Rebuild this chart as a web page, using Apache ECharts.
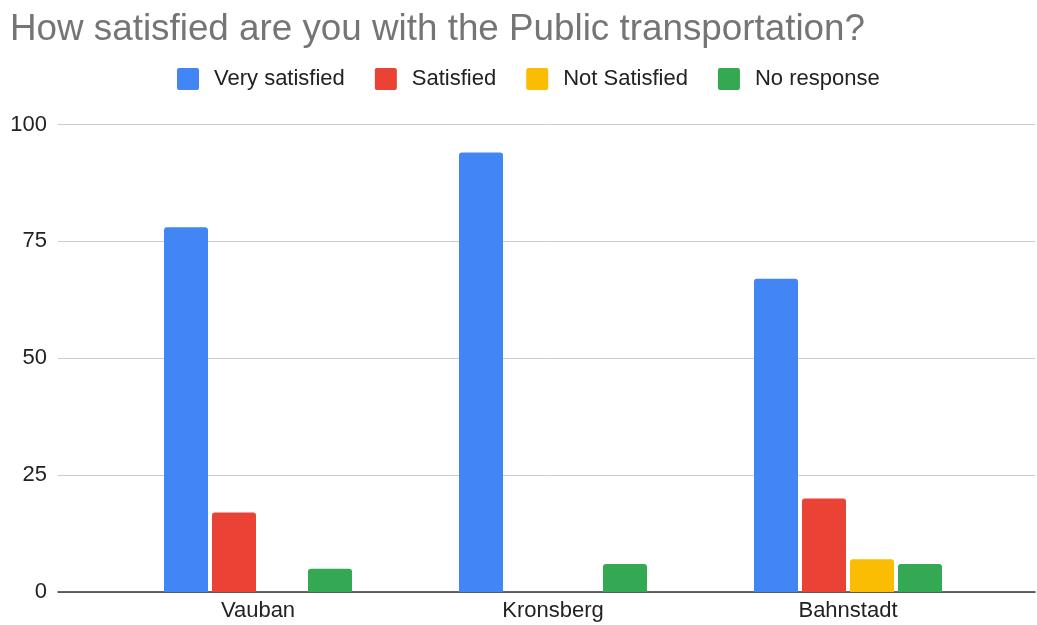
<!DOCTYPE html>
<html>
<head>
<meta charset="utf-8">
<script src="https://cdn.jsdelivr.net/npm/echarts@6/dist/echarts.min.js"></script>
<style>
  html, body { margin: 0; padding: 0; background: #fff; }
  #chart { width: 1037px; height: 625px; }
</style>
</head>
<body>
<div id="chart"></div>
<script>
// Survey answers per neighbourhood
const categories = ['Vauban', 'Kronsberg', 'Bahnstadt'];
const verySatisfied = [78, 94, 67];
const satisfied = [17, 0, 20];
const notSatisfied = [0, 0, 7];
const noResponse = [5, 6, 6];
const yTicks = [0, 25, 50, 75, 100];

const seriesNames = ['Very satisfied', 'Satisfied', 'Not Satisfied', 'No response'];
const seriesColors = ['#4285f4', '#ea4335', '#fbbc04', '#34a853'];
const seriesData = [verySatisfied, satisfied, notSatisfied, noResponse];

const FONT = 'Liberation Sans, Arial, sans-serif';
const LABEL_SIZE = 22;
const chart = echarts.init(document.getElementById('chart'));

const plotTop = 124.5;
const plotBottom = 33;

// square swatch with slightly softened corners
const swatch = 'path://M2,0 H20 Q22,0 22,2 V20 Q22,22 20,22 H2 Q0,22 0,20 V2 Q0,0 2,0 Z';

chart.setOption({
  backgroundColor: '#fff',
  animation: false,
  title: {
    text: 'How satisfied are you with the Public transportation?',
    left: 5,
    top: 6,
    textStyle: { fontFamily: FONT, fontSize: 36.8, fontWeight: 'normal', color: '#757575' }
  },
  legend: {
    top: 63,
    left: 172,
    itemWidth: 22,
    itemHeight: 22,
    itemGap: 30,
    icon: swatch,
    data: seriesNames,
    textStyle: { fontFamily: FONT, fontSize: LABEL_SIZE, color: '#222', padding: [0, 0, 0, 10] }
  },
  grid: [
    // full-width frame carrying the value gridlines and the baseline
    { left: 58, right: 2, top: plotTop, bottom: plotBottom, containLabel: false },
    // inner band where the category groups sit
    { left: 110.5, right: 41.5, top: plotTop, bottom: plotBottom, containLabel: false }
  ],
  xAxis: [
    {
      gridIndex: 0, type: 'category', data: [''],
      axisLine: { show: true, lineStyle: { color: '#333', width: 1.5 } },
      axisTick: { show: false }, axisLabel: { show: false }, splitLine: { show: false }
    },
    {
      gridIndex: 1, type: 'category', data: categories,
      axisLine: { show: false }, axisTick: { show: false },
      axisLabel: { fontFamily: FONT, fontSize: LABEL_SIZE, color: '#222', margin: 8 }
    }
  ],
  yAxis: [
    {
      gridIndex: 0, type: 'value', min: yTicks[0], max: yTicks[yTicks.length - 1], interval: 25,
      axisLine: { show: false }, axisTick: { show: false },
      axisLabel: { fontFamily: FONT, fontSize: LABEL_SIZE, color: '#222', margin: 11 },
      splitLine: { lineStyle: { color: '#cccccc', width: 1 } }
    },
    {
      gridIndex: 1, type: 'value', min: yTicks[0], max: yTicks[yTicks.length - 1], interval: 25,
      show: false, splitLine: { show: false }
    }
  ],
  series: seriesNames.map((name, i) => ({
    name: name,
    type: 'bar',
    xAxisIndex: 1,
    yAxisIndex: 1,
    data: seriesData[i],
    barWidth: 44,
    barGap: '9.1%',
    itemStyle: { color: seriesColors[i], borderRadius: [3, 3, 0, 0] },
    z: 3
  }))
});
</script>
</body>
</html>
